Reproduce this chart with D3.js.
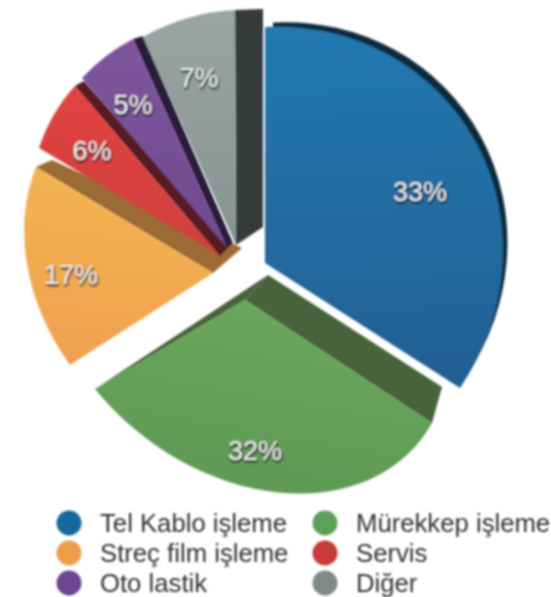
<!DOCTYPE html>
<html><head><meta charset="utf-8">
<script src="https://cdn.jsdelivr.net/npm/d3@7"></script>
<style>html,body{margin:0;padding:0;background:#fff}svg{display:block}text{font-family:"Liberation Sans",Arial,sans-serif}</style>
</head><body><svg id="c" width="551" height="597"></svg>
<script>
const categories = ["Tel Kablo işleme","Mürekkep işleme","Streç film işleme","Servis","Oto lastik","Diğer"];
const shares = [33,32,17,6,5,7];
const legendOrder = [[0,1],[2,3],[4,5]];

const topColors = ["#2179b2","#6aa65c","#f4b452","#e2433f","#7f559d","#99a5a3"];
const bottomColors = ["#235f92","#5e9a55","#f0a04f","#cf3f42","#704a8e","#869492"];
const wallColors = ["#11293a","#47643a","#9c6a36","#561b22","#2a1d3b","#343b3a"];
const legendColors = ["#14689e","#5fa059","#ee9d4a","#c73a3a","#6a4690","#7d8a88"];

// screen anchors of each tilted slice: apex, corner at start angle, corner at end angle;
// stretch = perspective correction of the slice's drawn span (radians)
const faces = [
 {a:[265,263],s:[265,27],e:[460,388],stretch:0.108},
 {a:[245,300],s:[432,423],e:[95,389],stretch:-0.035},
 {a:[213,273],s:[70,365],e:[36,167],stretch:0},
 {a:[220,256],s:[39,148],e:[75,86],stretch:0},
 {a:[227,248],s:[82,78],e:[133,39],stretch:0},
 {a:[236,245],s:[143,37],e:[235,10],stretch:0}
];
// side walls: which edge of the face, and how far apex / corner are pushed
const walls = [
 {i:1,edge:"s",da:[23,-25],dc:[10,-36]},
 {i:1,edge:"e",da:[23,-25],dc:[0,0]},
 {i:2,edge:"e",da:[29,-25],dc:[16,-7]},
 {i:3,edge:"e",da:[9,-9],dc:[9,-5]},
 {i:4,edge:"e",da:[6,-5],dc:[10,-3]},
 {i:5,edge:"e",da:[27,-18],dc:[28,-1]}
];
const labelPos = [[420,192],[255,451],[71,275],[92,151],[133,105],[199,78]];

const svg = d3.select("#c");
const defs = svg.append("defs");
const blur = defs.append("filter").attr("id","soft").attr("x","-5%").attr("y","-5%").attr("width","110%").attr("height","110%");
blur.append("feGaussianBlur").attr("stdDeviation",0.9);
const sh = defs.append("filter").attr("id","tshadow").attr("x","-20%").attr("y","-20%").attr("width","140%").attr("height","150%");
sh.append("feDropShadow").attr("dx",0.8).attr("dy",2).attr("stdDeviation",0.8).attr("flood-color","#111").attr("flood-opacity",1);
shares.forEach((_,i)=>{
  const g = defs.append("linearGradient").attr("id","g"+i).attr("x1",0).attr("y1",0).attr("x2",0).attr("y2",1);
  g.append("stop").attr("offset",0).attr("stop-color",topColors[i]);
  g.append("stop").attr("offset",1).attr("stop-color",bottomColors[i]);
});

const R = 100;
const pie = d3.pie().sort(null).value(d=>d);
const arcs = pie(shares).map((d,i)=>({...d,endAngle:d.endAngle+faces[i].stretch}));
const arc = d3.arc().innerRadius(0).outerRadius(R);
function matrix(d,f){
  const p0=[Math.sin(d.startAngle)*R,-Math.cos(d.startAngle)*R];
  const p1=[Math.sin(d.endAngle)*R,-Math.cos(d.endAngle)*R];
  const q0=[f.s[0]-f.a[0],f.s[1]-f.a[1]], q1=[f.e[0]-f.a[0],f.e[1]-f.a[1]];
  const det=p0[0]*p1[1]-p0[1]*p1[0];
  const a=(q0[0]*p1[1]-q1[0]*p0[1])/det, c=(q1[0]*p0[0]-q0[0]*p1[0])/det;
  const b=(q0[1]*p1[1]-q1[1]*p0[1])/det, e=(q1[1]*p0[0]-q0[1]*p1[0])/det;
  return `matrix(${a} ${b} ${c} ${e} ${f.a[0]} ${f.a[1]})`;
}
const root = svg.append("g").attr("filter","url(#soft)");

// blue rim behind the first slice
root.append("path").datum(arcs[0]).attr("d",arc).attr("fill",wallColors[0])
  .attr("transform",d=>`translate(8,-8) `+matrix(d,faces[0])+` scale(0.985)`);

const line = d3.line();
root.selectAll("path.wall").data(walls).join("path").attr("class","wall")
  .attr("d",w=>{const f=faces[w.i],c=f[w.edge];
    return line([f.a,c,[c[0]+w.dc[0],c[1]+w.dc[1]],[f.a[0]+w.da[0],f.a[1]+w.da[1]]])+"Z";})
  .attr("fill",w=>wallColors[w.i]);

root.selectAll("path.face").data(arcs).join("path").attr("class","face")
  .attr("d",arc).attr("transform",(d,i)=>matrix(d,faces[i])).attr("fill",(d,i)=>`url(#g${i})`);

root.selectAll("text.pct").data(shares).join("text").attr("class","pct")
  .attr("x",(d,i)=>labelPos[i][0]).attr("y",(d,i)=>labelPos[i][1]+9)
  .attr("text-anchor","middle").attr("font-size",27).attr("fill","#e9e9e9").attr("filter","url(#tshadow)")
  .text(d=>d+"%");

const colX = d3.scaleOrdinal().domain([0,1]).range([69,325]);
const rowY = d3.scalePoint().domain([0,1,2]).range([523,583]);
legendOrder.forEach((row,r)=>row.forEach((idx,c)=>{
  root.append("circle").attr("cx",colX(c)).attr("cy",rowY(r)).attr("r",12.5).attr("fill",legendColors[idx]);
  root.append("text").attr("x",colX(c)+31).attr("y",rowY(r)+9).attr("font-size",25.7).attr("fill","#333").text(categories[idx]);
}));
</script></body></html>
